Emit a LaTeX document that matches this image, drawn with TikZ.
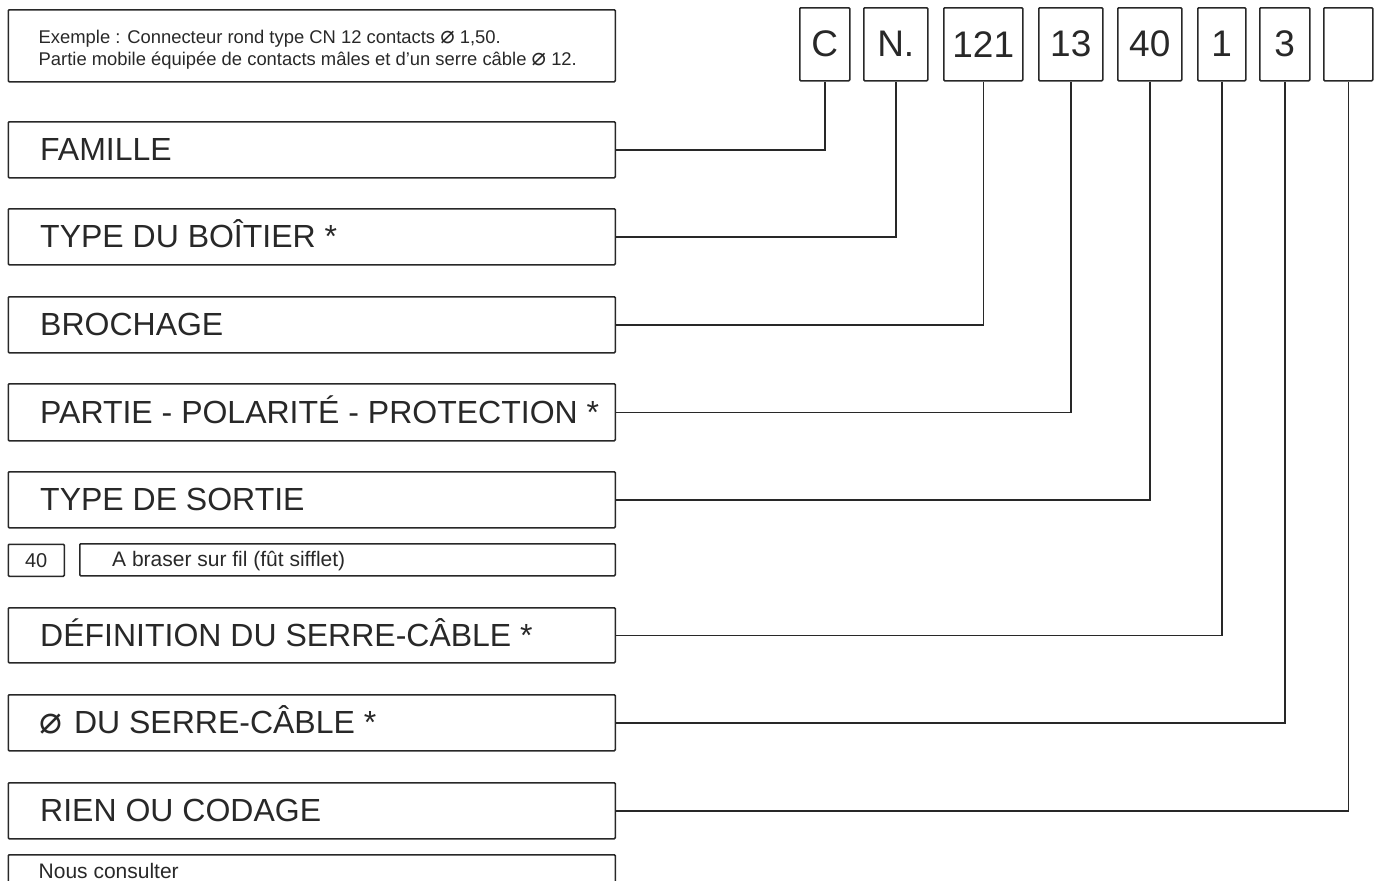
\documentclass[tikz,border=0pt]{standalone}
\usepackage{fontspec}
\setmainfont{Liberation Sans}
\newfontfamily\symfont{DejaVu Sans}
\definecolor{ink}{RGB}{40,40,40}
\newcommand{\diam}{{\symfont\fontsize{24}{24}\selectfont ⌀}}
\tikzset{
  frame/.style={draw=ink, line width=1.5pt, rounded corners=1pt, inner sep=0pt, anchor=north west},
  codebox/.style={draw=ink, line width=1.5pt, rounded corners=1pt, inner sep=0pt, anchor=north west, minimum height=73pt},
  codetxt/.style={font=\fontsize{37}{40}\selectfont, text=ink, inner sep=0pt},
  bigtxt/.style={font=\fontsize{32}{36}\selectfont, text=ink, inner sep=0pt, anchor=base west},
  smalltxt/.style={font=\fontsize{18.4}{22}\selectfont, text=ink, inner sep=0pt, anchor=base west},
  midtxt/.style={font=\fontsize{21}{24}\selectfont, text=ink, inner sep=0pt, anchor=base west},
  link/.style={draw=ink, line width=1.5pt}
}
\begin{document}
\begin{tikzpicture}[x=1pt,y=-1pt]
\useasboundingbox (0,0) rectangle (1377,881);
\clip (0,0) rectangle (1377,881);
% example box
\node[frame, minimum width=607pt, minimum height=72pt] (ex) at (7.5,9) {};
\node[smalltxt] (ex1) at (38.5,43) {Exemple : Connecteur rond type CN 12 contacts \diam{} 1,50.};
\node[smalltxt] (ex2) at (38.5,65) {Partie mobile équipée de contacts mâles et d'un serre câble \diam{} 12.};
% code boxes
\node[codebox, minimum width=50pt] (cC) at (799,7) {};
\node[codetxt] at (cC.center) {C};
\node[codebox, minimum width=64pt] (cN) at (863,7) {};
\node[codetxt] at (cN.center) {N.};
\node[codebox, minimum width=79pt] (c121) at (943,7) {};
\node[codetxt] at (c121.center) {121};
\node[codebox, minimum width=64pt] (c13) at (1038,7) {};
\node[codetxt] at (c13.center) {13};
\node[codebox, minimum width=64pt] (c40) at (1117,7) {};
\node[codetxt] at (c40.center) {40};
\node[codebox, minimum width=48pt] (c1) at (1197,7) {};
\node[codetxt] at (c1.center) {1};
\node[codebox, minimum width=50pt] (c3) at (1259,7) {};
\node[codetxt] at (c3.center) {3};
\node[codebox, minimum width=49pt] (cX) at (1323,7) {};
% big boxes
\node[frame, minimum width=607pt, minimum height=56pt] (fam) at (7.5,121) {};
\node[bigtxt] at (40,160.5) {FAMILLE};
\node[frame, minimum width=607pt, minimum height=56pt] (boi) at (7.5,208) {};
\node[bigtxt] at (40,247.5) {TYPE DU BOÎTIER *};
\node[frame, minimum width=607pt, minimum height=56pt] (bro) at (7.5,296) {};
\node[bigtxt] at (40,335.5) {BROCHAGE};
\node[frame, minimum width=607pt, minimum height=57pt] (par) at (7.5,383) {};
\node[bigtxt] at (40,423) {PARTIE - POLARITÉ - PROTECTION *};
\node[frame, minimum width=607pt, minimum height=56pt] (sor) at (7.5,471) {};
\node[bigtxt] at (40,510.5) {TYPE DE SORTIE};
% option row
\node[frame, minimum width=56pt, minimum height=32pt] (o40) at (7.5,543.5) {};
\node[font=\fontsize{20}{24}\selectfont, text=ink, inner sep=0pt] at (o40.center) {40};
\node[frame, minimum width=535.5pt, minimum height=32pt] (obr) at (79,543) {};
\node[midtxt] at (112,566.5) {A braser sur fil (fût sifflet)};
\node[frame, minimum width=607pt, minimum height=55pt] (def) at (7.5,607) {};
\node[bigtxt] at (40,646) {DÉFINITION DU SERRE-CÂBLE *};
\node[frame, minimum width=607pt, minimum height=56pt] (dia) at (7.5,694) {};
\node[bigtxt] at (39,733.5) {{\symfont\fontsize{38}{38}\selectfont ⌀}\hspace{12pt}DU SERRE-CÂBLE *};
\node[frame, minimum width=607pt, minimum height=56pt] (rie) at (7.5,782) {};
\node[bigtxt] at (40,821.5) {RIEN OU CODAGE};
\node[frame, minimum width=607pt, minimum height=50pt] (nou) at (7.5,854) {};
\node[midtxt] at (38.5,878) {Nous consulter};
% connectors
\draw[link] (cC.south) |- (fam.east);
\draw[link] (cN.south) |- (boi.east);
\draw[link] (c121.south) |- (bro.east);
\draw[link] (c13.south) |- (par.east);
\draw[link] (c40.south) |- (sor.east);
\draw[link] (c1.south) |- (def.east);
\draw[link] (c3.south) |- (dia.east);
\draw[link] (cX.south) |- (rie.east);
\end{tikzpicture}
\end{document}
